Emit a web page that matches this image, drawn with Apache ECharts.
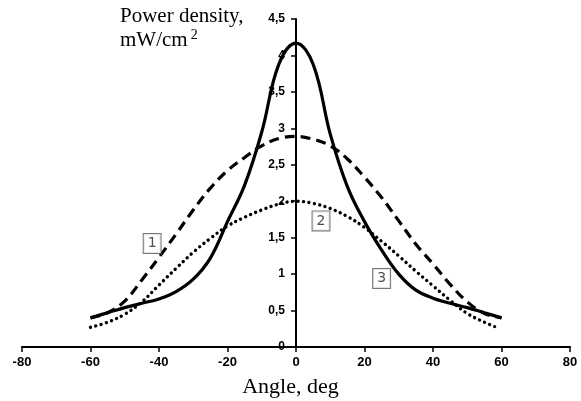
<!DOCTYPE html>
<html><head><meta charset="utf-8">
<script src="https://cdn.jsdelivr.net/npm/echarts@6/dist/echarts.min.js"></script>
<style>html,body{margin:0;padding:0;background:#fff}#c{width:581px;height:401px}</style>
</head><body><div id="c"></div>
<script>
// Curve 1 (dashed)
const angles1 = [-60,-55,-50,-45,-40,-35,-30,-25,-20,-15,-10,-5,0,5,10,15,20,25,30,35,40,45,50,55,60];
const power1  = [0.40,0.47,0.63,0.92,1.23,1.55,1.88,2.18,2.42,2.60,2.76,2.86,2.89,2.85,2.76,2.58,2.33,2.05,1.73,1.41,1.14,0.86,0.62,0.46,0.40];
// Curve 2 (dotted)
const angles2 = [-60,-55,-50,-45,-40,-35,-30,-25,-20,-15,-10,-5,0,5,10,15,20,25,30,35,40,45,50,55,58];
const power2  = [0.27,0.34,0.45,0.62,0.85,1.08,1.30,1.49,1.66,1.78,1.88,1.96,2.00,1.97,1.90,1.79,1.64,1.45,1.25,1.04,0.84,0.64,0.46,0.34,0.28];
// Curve 3 (solid)
const angles3 = [-60,-55,-50,-45,-40,-35,-30,-25,-20,-15,-10,-5,0,5,10,15,20,25,30,35,40,45,50,55,60];
const power3  = [0.40,0.47,0.54,0.60,0.66,0.76,0.93,1.22,1.72,2.22,2.95,3.88,4.17,3.88,2.92,2.20,1.72,1.33,1.00,0.78,0.67,0.60,0.54,0.47,0.40];
// Curve number labels
const labelText  = ['1','2','3'];
const labelAngle = [-42,7.3,25];
const labelPower = [1.42,1.73,0.94];
const xTicks = [-80,80,20];
const yTicks = [0,4.5,0.5];

const pairs = (xs, ys) => xs.map((x,i)=>[x, ys[i]]);
const W = 581, gridLeft = 22, gridRight = 11;
// move the y axis (line, ticks and labels) to x = 0
const yOffset = -((W - gridLeft - gridRight) * (0 - xTicks[0]) / (xTicks[1] - xTicks[0]));
const chart = echarts.init(document.getElementById('c'), null, {renderer:'canvas'});
const lblFont = {fontFamily:'Liberation Sans, Arial', fontWeight:'bold', fontSize:12, color:'#000'};
chart.setOption({
  animation:false,
  backgroundColor:'#fff',
  grid:{left:gridLeft, right:gridRight, top:19, bottom:54, outerBoundsMode:'none', containLabel:false},
  xAxis:{
    type:'value', min:xTicks[0], max:xTicks[1], interval:xTicks[2],
    axisLine:{show:true, onZero:false, lineStyle:{color:'#000', width:2}},
    axisTick:{show:true, length:5, lineStyle:{color:'#000', width:1.5}},
    axisLabel:Object.assign({}, lblFont, {margin:9, fontSize:13}),
    splitLine:{show:false}
  },
  yAxis:{
    type:'value', min:yTicks[0], max:yTicks[1], interval:yTicks[2],
    position:'left', offset:yOffset,
    axisLine:{show:true, onZero:false, lineStyle:{color:'#000', width:2}},
    axisTick:{show:true, length:5, lineStyle:{color:'#000', width:1.5}},
    axisLabel:Object.assign({margin:11, formatter:v=>String(v).replace('.',',')}, lblFont),
    splitLine:{show:false}
  },
  graphic:[
    {type:'text', left:'center', top:376, style:{text:'Angle, deg', font:'22px "Liberation Serif", "Times New Roman", serif', fill:'#000'}},
    {type:'text', left:120, top:6, style:{
      text:'{a|Power density,}\n{a|mW/cm}{s|2}',
      rich:{
        a:{fontFamily:'Liberation Serif', fontSize:21, lineHeight:23.5, color:'#000'},
        s:{fontFamily:'Liberation Serif', fontSize:14, lineHeight:23.5, padding:[0,0,9,3], color:'#000'}
      }}}
  ],
  series:[
    {type:'line', data:pairs(angles1,power1), smooth:0.4, symbol:'none', z:3,
     lineStyle:{color:'#000', width:3.2, type:[10,6]}},
    {type:'line', data:pairs(angles2,power2), smooth:0.4, symbol:'none', z:3,
     lineStyle:{color:'#000', width:3.4, type:[0.01,5.5], cap:'round'}},
    {type:'line', data:pairs(angles3,power3), smooth:0.4, symbol:'none', z:4,
     lineStyle:{color:'#000', width:3.2}},
    {type:'scatter', data:labelAngle.map((x,i)=>({value:[x,labelPower[i]], name:labelText[i]})),
     symbolSize:0, z:5,
     label:{show:true, position:'inside', formatter:p=>p.name, fontFamily:'DejaVu Sans', fontSize:14, color:'#222',
       backgroundColor:'#fff', borderColor:'#555', borderWidth:1, padding:[3,4,2,4]}}
  ]
});
</script></body></html>
